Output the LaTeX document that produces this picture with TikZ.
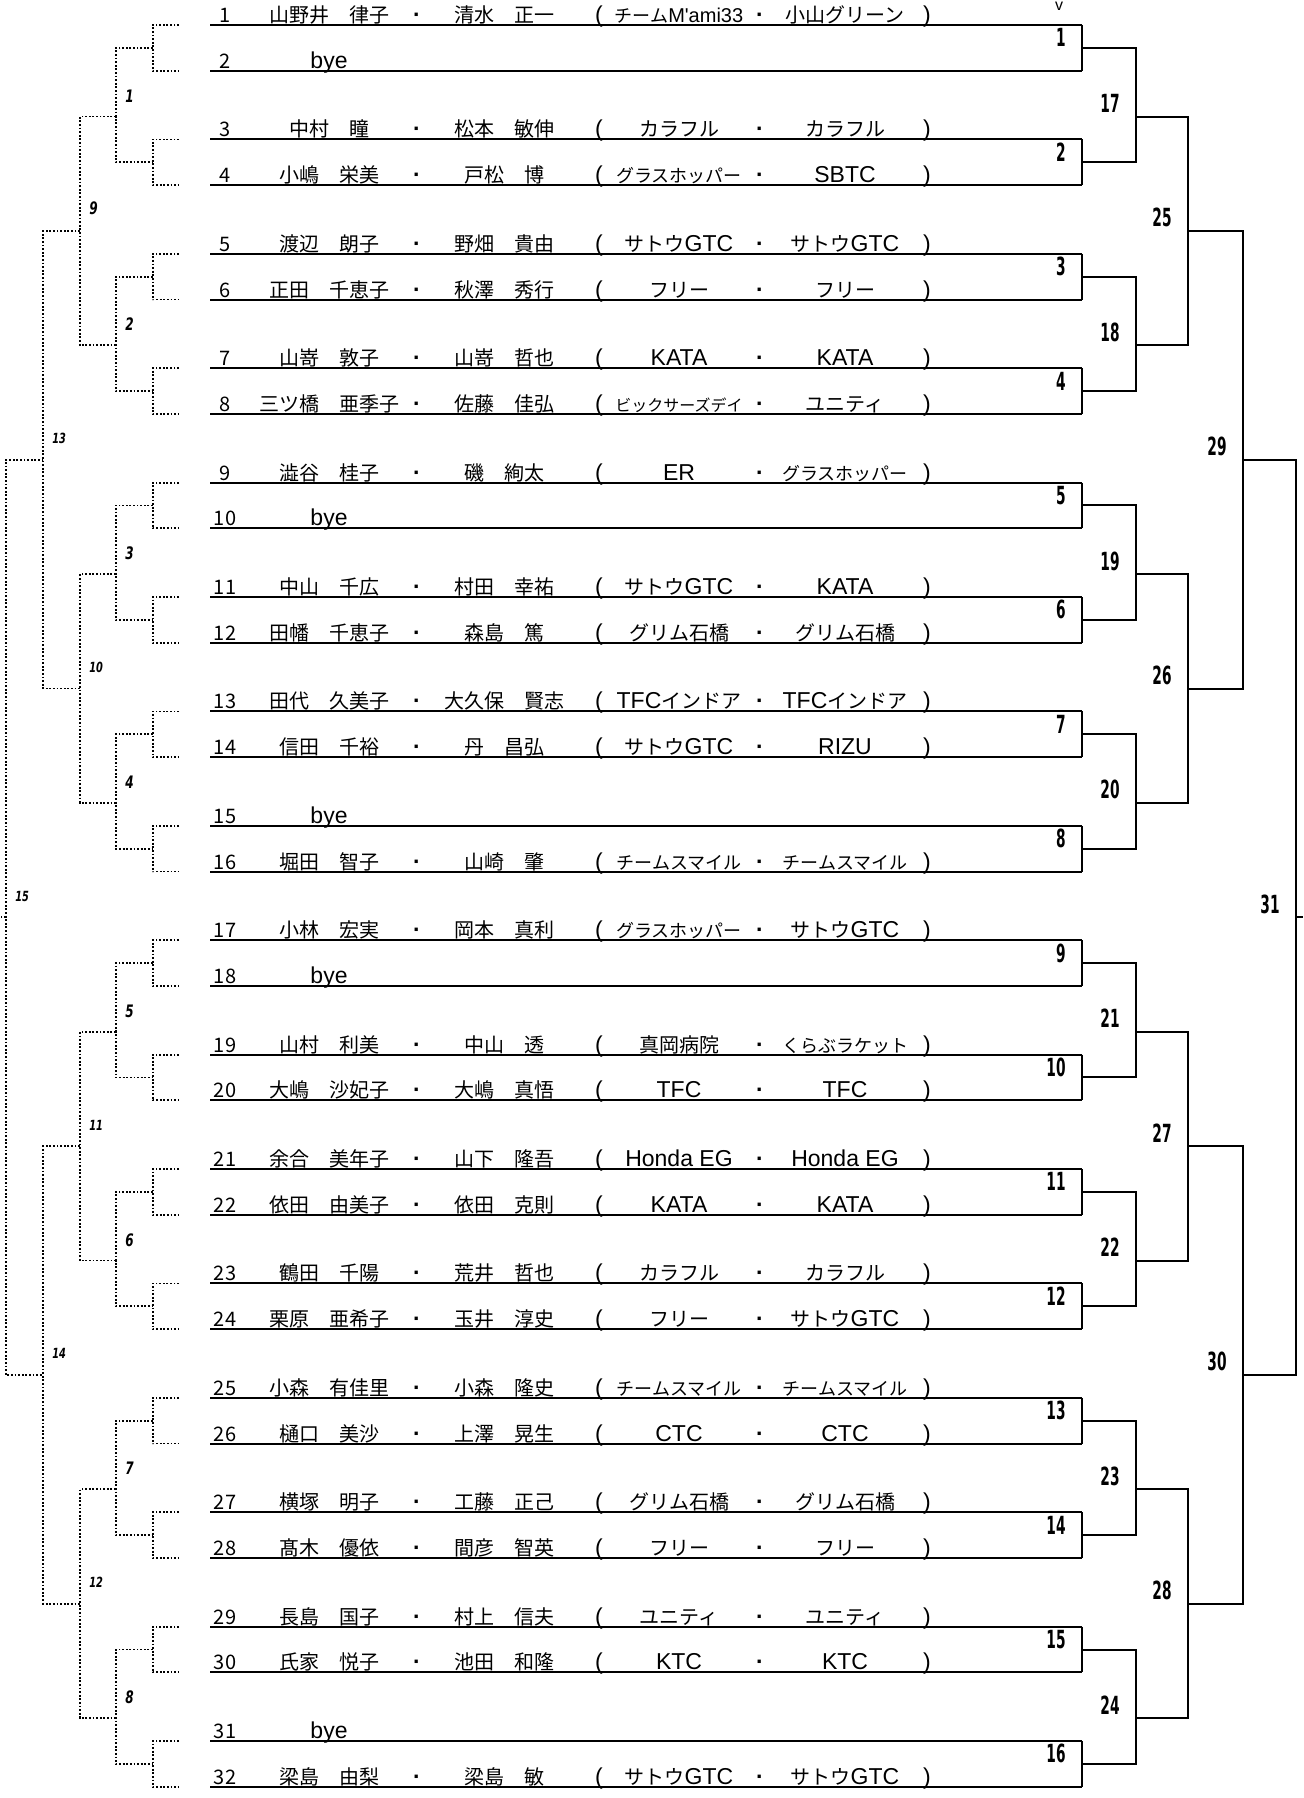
\documentclass[tikz,border=0pt]{standalone}
\usepackage{fontspec}
\usepackage{graphicx}
\setmainfont{Noto Sans CJK JP}
\newfontfamily\lblfont{DejaVu Sans}
\newfontfamily\latfont{Liberation Sans}
\newcommand\sm{\fontsize{9}{10}\selectfont}
\newcommand\ssm{\fontsize{8}{9}\selectfont}
\newcommand\lat[1]{{\latfont\fontsize{11.5}{12}\selectfont #1}}
\newcommand\lats[1]{{\latfont\fontsize{10}{11}\selectfont #1}}
\newcommand\rlab[1]{\scalebox{0.55}[1]{\lblfont\bfseries\fontsize{12.5}{14}\selectfont #1}}
\newcommand\llab[2]{\scalebox{0.7}[1]{\lblfont\bfseries\itshape\fontsize{#1}{#1}\selectfont #2}}
\newcommand\G[1]{25+22.88*(#1)}
\tikzset{
  txt/.style={anchor=base, inner sep=0pt, font=\fontsize{10}{12}\selectfont},
  uline/.style={line width=1pt},
  solidbr/.style={line width=1pt},
  dotbr/.style={line width=0.9pt, dash pattern=on 0.9pt off 0.9pt},
  rlbl/.style={anchor=base east, inner sep=0pt},
  llbl/.style={anchor=base west, inner sep=0pt},
}
\newcommand\rowbase[1]{%
  \pgfmathsetmacro\nn{5*floor((#1-1)/2)+2*mod(#1-1,2)}%
  \pgfmathsetmacro\yy{25+22.88*\nn}%
  \pgfmathsetmacro\yt{\yy-2.5}%
  \coordinate (uL#1) at (210,\yy);
  \coordinate (uR#1) at (1082,\yy);
  \coordinate (sL#1) at (152.7,\yy);
  \coordinate (sR#1) at (179,\yy);
  \draw[uline] (uL#1) -- (uR#1);
  \node[txt] (num#1) at (225,\yt) {#1};
}
\newcommand\prow[5]{%
  \rowbase{#1}
  \node[txt] (na#1) at (329,\yt) {#2};
  \node[txt] (da#1) at (417,\yt) {\lat{\bfseries ·}};
  \node[txt] (nb#1) at (504,\yt) {#3};
  \node[txt] (po#1) at (599,\yt) {\lat{(}};
  \node[txt] (ca#1) at (679,\yt) {#4};
  \node[txt] (db#1) at (760,\yt) {\lat{\bfseries ·}};
  \node[txt] (cb#1) at (845,\yt) {#5};
  \node[txt] (pc#1) at (927,\yt) {\lat{)}};
}
\newcommand\byerow[1]{%
  \rowbase{#1}
  \node[txt] (na#1) at (329,\yt) {\lat{bye}};
}
\begin{document}
\begin{tikzpicture}[x=0.5pt,y=-0.5pt]
\useasboundingbox (0,0) rectangle (1303,1798);

\prow{1}{山野井　律子}{清水　正一}{\sm チーム\lats{M'ami33}}{小山グリーン}
\byerow{2}
\prow{3}{中村　瞳}{松本　敏伸}{カラフル}{カラフル}
\prow{4}{小嶋　栄美}{戸松　博}{\sm グラスホッパー}{\lat{SBTC}}
\prow{5}{渡辺　朗子}{野畑　貴由}{サトウ\lat{GTC}}{サトウ\lat{GTC}}
\prow{6}{正田　千恵子}{秋澤　秀行}{フリー}{フリー}
\prow{7}{山嵜　敦子}{山嵜　哲也}{\lat{KATA}}{\lat{KATA}}
\prow{8}{三ツ橋　亜季子}{佐藤　佳弘}{\ssm ビックサーズデイ}{ユニティ}
\prow{9}{澁谷　桂子}{磯　絢太}{\lat{ER}}{\sm グラスホッパー}
\byerow{10}
\prow{11}{中山　千広}{村田　幸祐}{サトウ\lat{GTC}}{\lat{KATA}}
\prow{12}{田幡　千恵子}{森島　篤}{グリム石橋}{グリム石橋}
\prow{13}{田代　久美子}{大久保　賢志}{\lat{TFC}インドア}{\lat{TFC}インドア}
\prow{14}{信田　千裕}{丹　昌弘}{サトウ\lat{GTC}}{\lat{RIZU}}
\byerow{15}
\prow{16}{堀田　智子}{山崎　肇}{\sm チームスマイル}{\sm チームスマイル}
\prow{17}{小林　宏実}{岡本　真利}{\sm グラスホッパー}{サトウ\lat{GTC}}
\byerow{18}
\prow{19}{山村　利美}{中山　透}{真岡病院}{\sm くらぶラケット}
\prow{20}{大嶋　沙妃子}{大嶋　真悟}{\lat{TFC}}{\lat{TFC}}
\prow{21}{余合　美年子}{山下　隆吾}{\lat{Honda EG}}{\lat{Honda EG}}
\prow{22}{依田　由美子}{依田　克則}{\lat{KATA}}{\lat{KATA}}
\prow{23}{鶴田　千陽}{荒井　哲也}{カラフル}{カラフル}
\prow{24}{栗原　亜希子}{玉井　淳史}{フリー}{サトウ\lat{GTC}}
\prow{25}{小森　有佳里}{小森　隆史}{\sm チームスマイル}{\sm チームスマイル}
\prow{26}{樋口　美沙}{上澤　晃生}{\lat{CTC}}{\lat{CTC}}
\prow{27}{横塚　明子}{工藤　正己}{グリム石橋}{グリム石橋}
\prow{28}{髙木　優依}{間彦　智英}{フリー}{フリー}
\prow{29}{長島　国子}{村上　信夫}{ユニティ}{ユニティ}
\prow{30}{氏家　悦子}{池田　和隆}{\lat{KTC}}{\lat{KTC}}
\byerow{31}
\prow{32}{梁島　由梨}{梁島　敏}{サトウ\lat{GTC}}{サトウ\lat{GTC}}

% ---------- round 1 (boxes) ----------
\foreach \k in {1,...,16} {
  \pgfmathtruncatemacro\a{2*\k-1}
  \pgfmathtruncatemacro\b{2*\k}
  \coordinate (m1-\k) at (1082,{\G{5*(\k-1)+1}});
  \coordinate (lm1-\k) at (152.7,{\G{5*(\k-1)+1}});
  \draw[solidbr] (uR\a) -- (uR\b);
  \draw[dotbr] (sR\a) -- (sL\a) -- (sL\b) -- (sR\b);
  \node[rlbl] (rl\k) at (1066,{\G{5*(\k-1)+1}-1}) {\rlab{\k}};
}
% ---------- round 2 ----------
\foreach \j in {1,...,8} {
  \pgfmathtruncatemacro\a{2*\j-1}
  \pgfmathtruncatemacro\b{2*\j}
  \pgfmathtruncatemacro\lab{16+\j}
  \coordinate (m2-\j) at (1136,{\G{10*(\j-1)+4}});
  \coordinate (lm2-\j) at (115.7,{\G{10*(\j-1)+4}});
  \draw[solidbr] (m1-\a) -| (m2-\j) |- (m1-\b);
  \draw[dotbr] (lm1-\a) -| (lm2-\j) |- (lm1-\b);
  \node[rlbl] (rl\lab) at (1120,{\G{10*(\j-1)+4}-4}) {\rlab{\lab}};
  \node[llbl] (ll\j) at (125,{\G{10*(\j-1)+4}-14.5}) {\llab{8.6}{\j}};
}
% ---------- round 3 ----------
\foreach \i in {1,...,4} {
  \pgfmathtruncatemacro\a{2*\i-1}
  \pgfmathtruncatemacro\b{2*\i}
  \pgfmathtruncatemacro\lab{24+\i}
  \pgfmathtruncatemacro\llb{8+\i}
  \coordinate (m3-\i) at (1188,{\G{20*(\i-1)+9}});
  \coordinate (lm3-\i) at (80,{\G{20*(\i-1)+9}});
  \draw[solidbr] (m2-\a) -| (m3-\i) |- (m2-\b);
  \draw[dotbr] (lm2-\a) -| (lm3-\i) |- (lm2-\b);
  \node[rlbl] (rl\lab) at (1172,{\G{20*(\i-1)+9}-4}) {\rlab{\lab}};
  \ifnum\llb=9
    \node[llbl] (ll\llb) at (89,{\G{20*(\i-1)+9}-16}) {\llab{8.6}{\llb}};
  \else
    \node[llbl] (ll\llb) at (89,{\G{20*(\i-1)+9}-16}) {\llab{7}{\llb}};
  \fi
}
% ---------- round 4 ----------
\foreach \l in {1,2} {
  \pgfmathtruncatemacro\a{2*\l-1}
  \pgfmathtruncatemacro\b{2*\l}
  \pgfmathtruncatemacro\lab{28+\l}
  \pgfmathtruncatemacro\llb{12+\l}
  \coordinate (m4-\l) at (1243,{\G{40*(\l-1)+19}});
  \coordinate (lm4-\l) at (43.3,{\G{40*(\l-1)+19}});
  \draw[solidbr] (m3-\a) -| (m4-\l) |- (m3-\b);
  \draw[dotbr] (lm3-\a) -| (lm4-\l) |- (lm3-\b);
  \node[rlbl] (rl\lab) at (1227,{\G{40*(\l-1)+19}-4}) {\rlab{\lab}};
  \node[llbl] (ll\llb) at (52,{\G{40*(\l-1)+19}-16.5}) {\llab{7}{\llb}};
}
% ---------- final ----------
\coordinate (m5) at (1296,{\G{39}});
\coordinate (endR) at (1303,{\G{39}});
\coordinate (lm5) at (6,{\G{39}});
\coordinate (endL) at (1,{\G{39}});
\draw[solidbr] (m4-1) -| (m5) |- (m4-2);
\draw[solidbr] (m5) -- (endR);
\draw[dotbr] (lm4-1) -| (lm5) |- (lm4-2);
\draw[dotbr] (lm5) -- (endL);
\node[rlbl] (rl31) at (1280,{\G{39}-4}) {\rlab{31}};
\node[llbl] (ll15) at (15,{\G{39}-16}) {\llab{7}{15}};

% small mark at top
\node[anchor=base, inner sep=0pt, font=\latfont\fontsize{8}{8}\selectfont] (topv) at (1059,10.5) {v};
\end{tikzpicture}
\end{document}
